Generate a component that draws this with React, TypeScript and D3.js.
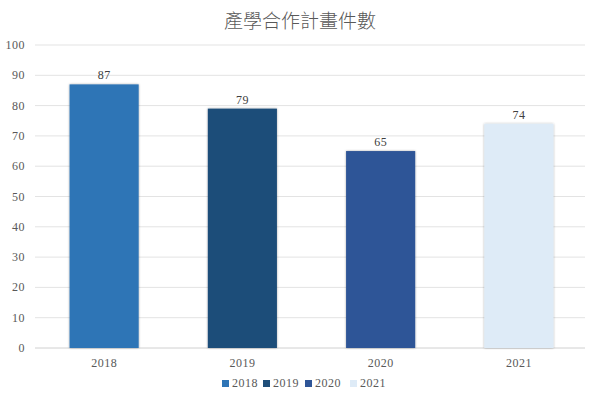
import * as React from 'react';
import {scaleBand, scaleLinear} from 'd3';

const years = ['2018', '2019', '2020', '2021'];
const counts = [87, 79, 65, 74];
const colors = ['#2E75B6', '#1F4E79', '#2F5597', '#DEEBF7'];
const yTicks = [0, 10, 20, 30, 40, 50, 60, 70, 80, 90, 100];
const title = '產學合作計畫件數';

const width = 600;
const height = 399;
const left = 35;
const right = 588;
const top = 45;
const bottom = 348;
const font = '"Liberation Serif", "DejaVu Serif", serif';
const textColor = '#595959';

const xScale = scaleBand()
    .domain(years)
    .range([left, right])
    .paddingInner(0.5)
    .paddingOuter(0.25);

const yScale = scaleLinear()
    .domain([0, 100])
    .range([bottom, top]);

const App = () => {
    const legendItems = years.map((y, i) => ({y, c: colors[i]}));
    const legendWidths = [41, 42, 45, 40];
    let lx = 222;

    return (
        <svg width={width} height={height} style={{position: 'absolute', left: 0, top: 0, background: '#fff'}}>
            <defs>
                <filter id="shadow" x="-10%" y="-10%" width="120%" height="120%">
                    <feDropShadow dx="0" dy="0" stdDeviation="1.2" floodColor="#000" floodOpacity="0.35"/>
                </filter>
            </defs>
            <rect width={width} height={height} fill="#fff"/>
            <text x={width / 2} y={28} textAnchor="middle" fontFamily={'"Noto Sans CJK TC", sans-serif'}
                  fontSize={19} fill={textColor} fontWeight={300}>{title}</text>
            {yTicks.map(t => (
                <g key={t}>
                    <line x1={left} x2={right - 3} y1={yScale(t)} y2={yScale(t)}
                          stroke={t === 0 ? '#d0d0d0' : '#e3e3e3'} strokeWidth={1}/>
                    <text x={25} y={yScale(t) + 4} textAnchor="end" fontFamily={font} fontSize={12}
                          letterSpacing={0.5} fill={textColor}>{t}</text>
                </g>
            ))}
            {years.map((y, i) => (
                <g key={y}>
                    <rect x={xScale(y)} y={yScale(counts[i])} width={xScale.bandwidth()}
                          height={yScale(0) - yScale(counts[i])} fill={colors[i]} filter="url(#shadow)"/>
                    <text x={(xScale(y) || 0) + xScale.bandwidth() / 2} y={yScale(counts[i]) - 5}
                          textAnchor="middle" fontFamily={font} fontSize={12} letterSpacing={0.5}
                          fill="#404040">{counts[i]}</text>
                    <text x={(xScale(y) || 0) + xScale.bandwidth() / 2} y={367}
                          textAnchor="middle" fontFamily={font} fontSize={12} letterSpacing={0.5}
                          fill={textColor}>{y}</text>
                </g>
            ))}
            {legendItems.map((d, i) => {
                const x = lx;
                lx += legendWidths[i];
                return (
                    <g key={d.y}>
                        <rect x={x} y={380} width={7} height={7} fill={d.c}/>
                        <text x={x + 10} y={387} fontFamily={font} fontSize={12} letterSpacing={0.5}
                              fill={textColor}>{d.y}</text>
                    </g>
                );
            })}
        </svg>
    );
};

export default App;
